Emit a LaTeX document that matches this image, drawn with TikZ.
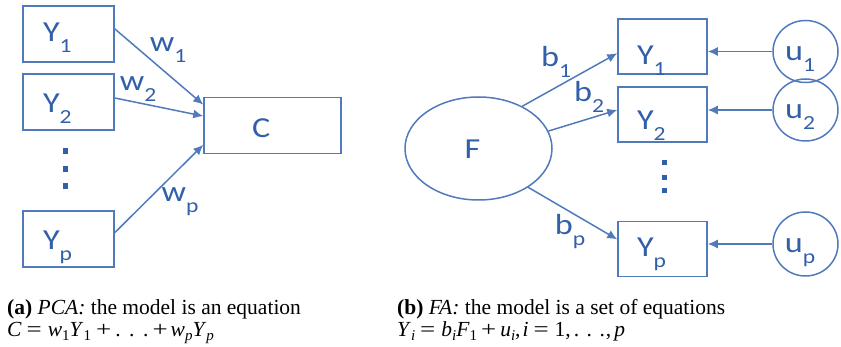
\documentclass[tikz,border=0pt]{standalone}
\usepackage{graphicx}
\usepackage{fontspec}
\setmainfont{Liberation Serif}
\newfontfamily\diagfont[FakeStretch=1.18]{Carlito}
\usetikzlibrary{arrows.meta,shapes.geometric,calc}
\definecolor{lc}{RGB}{80,122,187}
\definecolor{tc}{RGB}{50,96,168}
\newcommand\lsub[1]{\raisebox{-11pt}{\fontsize{20}{20}\selectfont #1}}
\newcommand\msub[1]{\raisebox{-3.5pt}{\fontsize{15}{15}\selectfont #1}}
\newcommand\meq{\hspace{5pt}\scalebox{1.25}[1]{=}\hspace{6pt}}
\newcommand\mplus{\hspace{5pt}\scalebox{1.25}[1]{+}\hspace{4pt}}
\newcommand\mdots{.\hspace{8.6pt}.\hspace{8.6pt}.}
\begin{document}
\begin{tikzpicture}[x=1pt,y=-1pt,
  lbl/.style={text=tc,font=\diagfont\fontsize{29}{30}\selectfont,inner sep=0pt},
  boff/.style={text height={20pt+#1pt},text depth={20pt-#1pt}},
  ybox/.style={lbl,draw=lc,line width=1.5pt,rectangle,minimum height=56pt,
    inner xsep=20pt,text width=51pt,align=left},
  rbox/.style={ybox,inner xsep=19pt,text width=51pt,minimum height=55pt},
  ell/.style={lbl,draw=lc,line width=1.5pt,ellipse},
  arr/.style={draw=lc,line width=1.5pt,-{Latex[length=10pt,width=9pt]}},
  captxt/.style={inner sep=0pt,anchor=base west,font=\fontsize{21.5}{22}\selectfont},
  dotm/.style={fill=tc}]
\useasboundingbox (0,0) rectangle (841,347);
% ---------- (a) PCA ----------
\node[ybox,boff=8] (Y1) at (68.5,34) {Y\lsub{1}};
\node[ybox,boff=11] (Y2) at (68.5,102) {Y\lsub{2}};
\node[ybox,boff=11] (Yp) at (68.5,239) {Y\lsub{p}};
\node[ybox,boff=12,minimum width=137pt,inner xsep=48pt,text width=41pt] (C) at (272.5,125.3) {C};
\fill[dotm] (62.5,148) rectangle (67.5,154);
\fill[dotm] (62.5,166.5) rectangle (67.5,172.5);
\fill[dotm] (62.5,183) rectangle (67.5,189);
\draw[arr] ($(Y1.north east)!0.41!(Y1.south east)$) -- ($(C.north west)!0.14!(C.south west)$);
\draw[arr] ($(Y2.north east)!0.43!(Y2.south east)$) -- ($(C.north west)!0.34!(C.south west)$);
\draw[arr] ($(Yp.north east)!0.39!(Yp.south east)$) -- ($(C.north west)!0.84!(C.south west)$);
\node[lbl] (w1) at (168,50) {w\lsub{1}};
\node[lbl] (w2) at (138,89) {w\lsub{2}};
\node[lbl] (wp) at (180,202) {w\lsub{p}};
% ---------- (b) FA ----------
\node[ell,minimum width=147pt,minimum height=103pt,text height=20pt,text depth=-2pt] (F) at (478.5,148.5) {F\hspace*{12pt}};
\node[rbox,boff=18] (R1) at (662.5,46.5) {Y\lsub{1}};
\node[rbox,boff=15] (R2) at (662.5,114.5) {Y\lsub{2}};
\node[rbox,boff=8] (Rp) at (662.5,249) {Y\lsub{p}};
\node[ell,minimum width=65pt,minimum height=62pt,text height=22pt,text depth=4pt] (u1) at (805.5,51.5) {u\lsub{1}\hspace*{11pt}};
\node[ell,minimum width=65pt,minimum height=62pt,text height=22pt,text depth=4pt] (u2) at (805.5,110) {u\lsub{2}\hspace*{11pt}};
\node[ell,minimum width=65pt,minimum height=64pt,text height=22pt,text depth=4pt] (up) at (805.5,244) {u\lsub{p}\hspace*{11pt}};
\fill[dotm] (662,160) rectangle (667,165);
\fill[dotm] (662,175) rectangle (667,180);
\fill[dotm] (662,188) rectangle (667,193);
\draw[arr] (F.44) -- ($(R1.north west)!0.62!(R1.south west)$);
\draw[arr] (F.14) -- ($(R2.north west)!0.42!(R2.south west)$);
\draw[arr] (F.-38) -- ($(Rp.north west)!0.33!(Rp.south west)$);
\draw[arr] (u1.west) -- (u1.west -| R1.east);
\draw[arr] (u2.west) -- (u2.west -| R2.east);
\draw[arr] (up.west) -- (up.west -| Rp.east);
\node[lbl] (b1) at (556,62) {b\lsub{1}};
\node[lbl] (b2) at (589,97) {b\lsub{2}};
\node[lbl] (bp) at (570,232) {b\lsub{p}};
% ---------- captions ----------
\node[captxt] (capa) at (7,315) {\textbf{(a)} \textit{PCA:} the model is an equation};
\node[captxt] (capa2) at (7,337) {\textit{C}\meq\textit{w}\msub{1}\textit{Y}\msub{1}\mplus\mdots\hspace{4pt}\scalebox{1.25}[1]{+}\hspace{3pt}\textit{w}\msub{\textit{p}}\textit{Y}\msub{\textit{p}}};
\node[captxt] (capb) at (397,315) {\textbf{(b)} \textit{FA:} the model is a set of equations};
\node[captxt] (capb2) at (397,337) {\textit{Y}\msub{\textit{i}}\meq\textit{b}\msub{\textit{i}}\textit{F}\msub{1}\hspace{4pt}\scalebox{1.25}[1]{+}\hspace{4pt}\textit{u}\msub{\textit{i}},\hspace{2pt}\textit{i}\meq 1,\hspace{3pt}.\hspace{7.5pt}.\hspace{7.5pt}.\hspace{1pt},\hspace{3pt}\textit{p}};
\end{tikzpicture}
\end{document}
